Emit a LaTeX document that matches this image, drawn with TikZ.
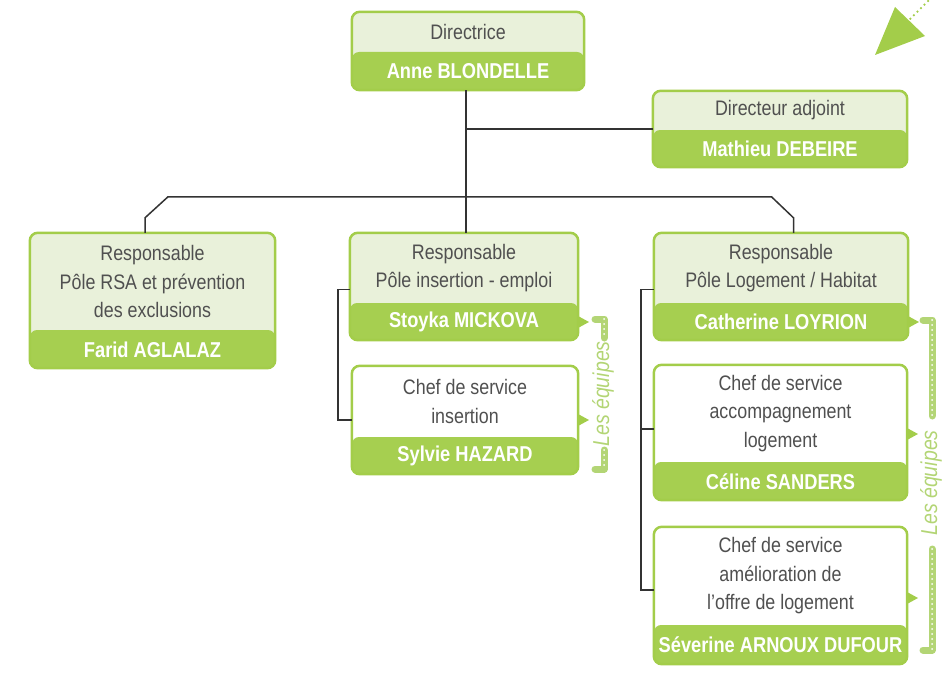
\documentclass[tikz,border=0pt]{standalone}
\usepackage{fontspec}
\setmainfont{Liberation Sans}[FakeStretch=0.85]
\usetikzlibrary{fit,calc}
\definecolor{gframe}{HTML}{A3CD4A}
\definecolor{gband}{HTML}{A6CF50}
\definecolor{glight}{HTML}{E9F1DA}
\definecolor{gtext}{HTML}{505050}
\definecolor{gline}{HTML}{333333}
\definecolor{gbar}{HTML}{B3D575}
\tikzset{
  boxbg/.style={inner sep=0pt, rounded corners=8pt},
  boxline/.style={draw=gframe, line width=2.5pt, rounded corners=8pt},
  toptxt/.style={inner sep=0pt, align=center, text=gtext, font=\fontsize{21}{28.5}\selectfont},
  nametxt/.style={inner sep=0pt, text=white, font=\bfseries\fontsize{21.5}{24}\selectfont},
  conn/.style={draw=gline, line width=1.5pt},
  tri/.style={fill=gframe},
  equipes/.style={rotate=90, inner sep=0pt, text=gbar, font=\itshape\fontsize{23}{23}\selectfont},
  barline/.style={draw=gbar, line width=7pt, line cap=round, line join=round},
  bardots/.style={draw=white, line width=2pt, line cap=round, dash pattern=on 0pt off 5pt},
}
% #1 name, #2 x1, #3 y1, #4 x2, #5 y2, #6 band top, #7 top fill, #8 text, #9 name text
\newcommand{\orgbox}[9]{%
  \node[boxbg, fill=#7, fit={(#2,#3) (#4,#5)}] (#1) {};
  \fill[gband, rounded corners=7pt] (#2,#6) rectangle (#4,#5);
  \draw[boxline] (#1.north west) rectangle (#1.south east);
  \node[toptxt] (#1t) at ({(#2+#4)/2},{(#3+#6)/2}) {#8};
  \node[nametxt] (#1n) at ({(#2+#4)/2},{(#6+#5)/2+0.5}) {#9};
}
\begin{document}
\begin{tikzpicture}[x=1pt,y=-1pt]
\useasboundingbox (0,0) rectangle (952,674);

\orgbox{dir}{352}{12}{584}{90}{52}{glight}{Directrice}{Anne BLONDELLE}
\orgbox{adj}{653}{91}{907}{167}{130}{glight}{Directeur adjoint}{Mathieu DEBEIRE}
\orgbox{rsa}{30}{233}{275}{368}{330}{glight}{Responsable\\Pôle RSA et prévention\\des exclusions}{Farid AGLALAZ}
\orgbox{insh}{350}{233}{578}{340}{303}{glight}{Responsable\\Pôle insertion - emploi}{Stoyka MICKOVA}
\orgbox{insc}{352}{366}{578}{474}{437}{white}{Chef de service\\insertion}{Sylvie HAZARD}
\orgbox{logh}{654}{233}{908}{340}{303}{glight}{Responsable\\Pôle Logement / Habitat}{Catherine LOYRION}
\orgbox{loga}{654}{365}{907}{500}{462}{white}{Chef de service\\accompagnement\\logement}{Céline SANDERS}
\orgbox{logb}{654}{527}{907}{664}{625}{white}{Chef de service\\amélioration de\\l’offre de logement}{Séverine ARNOUX DUFOUR}

% hierarchy lines
\draw[conn] ([xshift=-2pt]dir.south) -- ([xshift=-2pt]dir.south |- insh.north);
\draw[conn] ([xshift=-2pt]dir.south |- adj.west) -- (adj.west);
\draw[conn] ([xshift=-7.5pt]rsa.north) -- ++(0,-15) -- ++(23,-21)
  -- ($([xshift=12.5pt]logh.north)+(-22,-36)$) -- ++(22,21) -- ([xshift=12.5pt]logh.north);
\draw[conn] ([yshift=-3pt]insh.west) -- ++(-12,0) |- (insc.west);
\draw[conn] ([yshift=-3pt]logh.west) -- ++(-13,0) |- ([yshift=3.5pt]loga.west);
\draw[conn] ($([yshift=-3pt]logh.west)+(-13,0)$) |- ([yshift=5.5pt]logb.west);

% small pointers
\fill[tri] (578,316) -- (589,322) -- (578,328) -- cycle;
\fill[tri] (578,414) -- (589,420) -- (578,426) -- cycle;
\fill[tri] (908,316) -- (919,322) -- (908,328) -- cycle;
\fill[tri] (907,428) -- (918,434) -- (907,440) -- cycle;
\fill[tri] (907,592) -- (918,598) -- (907,604) -- cycle;

% Les équipes (insertion)
\draw[barline] (595,319) -- (604,319) -- (604,338);
\draw[bardots] (604,319) -- (604,338);
\draw[barline] (604,450) -- (604,469) -- (595,469);
\draw[bardots] (604,450) -- (604,469);
\node[equipes] (eq1) at (603,394) {Les équipes};

% Les équipes (logement)
\draw[barline] (923,320) -- (932,320) -- (932,416);
\draw[bardots] (932,320) -- (932,416);
\draw[barline] (932,549) -- (932,650) -- (923,650);
\draw[bardots] (932,549) -- (932,650);
\node[equipes] (eq2) at (931,483) {Les équipes};

% top-right arrow
\fill[gframe] (895,7) -- (925,36) -- (875,55) -- cycle;
\draw[draw=gframe, line width=2.5pt, line cap=round, dash pattern=on 0pt off 5pt] (928,1) -- (908,21);
\end{tikzpicture}
\end{document}
